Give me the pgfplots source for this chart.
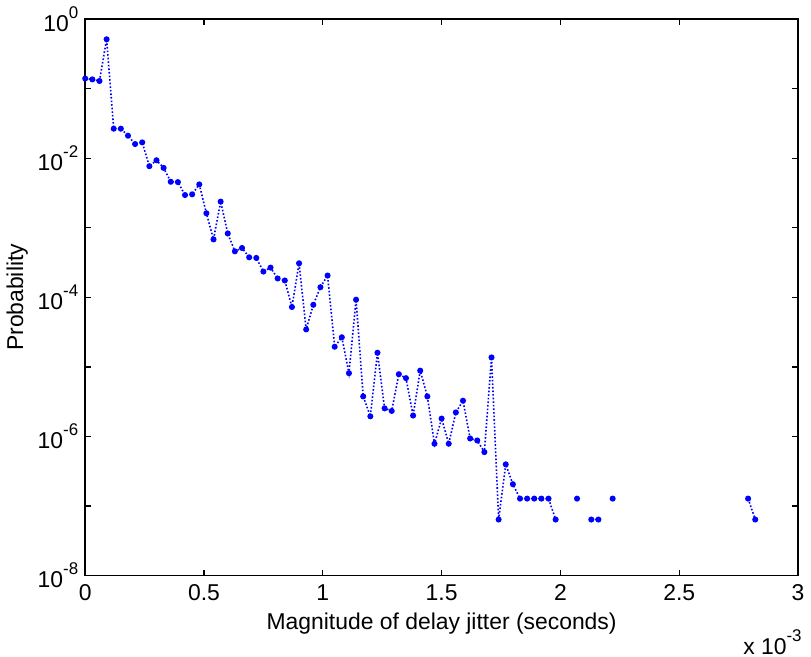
\documentclass[border=0pt]{standalone}
\usepackage{pgfplots}
\pgfplotsset{compat=1.18}
\usepackage{fontspec}
\setmainfont{Liberation Sans}
\newcommand{\sy}[1]{\raisebox{6.5pt}{\fontsize{8.5}{9}\selectfont #1}}
\pgfplotstableread{
x y
0.00 1.40e-1
0.03 1.36e-1
0.06 1.29e-1
0.09 5.13e-1
0.12 2.66e-2
0.15 2.66e-2
0.18 2.11e-2
0.21 1.60e-2
0.24 1.69e-2
0.27 7.69e-3
0.30 9.36e-3
0.33 7.27e-3
0.36 4.59e-3
0.39 4.54e-3
0.42 2.96e-3
0.45 3.03e-3
0.48 4.21e-3
0.51 1.62e-3
0.54 6.81e-4
0.57 2.38e-3
0.60 8.29e-4
0.63 4.59e-4
0.66 5.13e-4
0.69 3.77e-4
0.72 3.69e-4
0.75 2.35e-4
0.78 2.68e-4
0.81 1.87e-4
0.84 1.75e-4
0.87 7.27e-5
0.90 3.09e-4
0.93 3.46e-5
0.96 7.82e-5
0.99 1.40e-4
1.02 2.06e-4
1.05 1.95e-5
1.08 2.67e-5
1.11 8.13e-6
1.14 9.27e-5
1.17 3.77e-6
1.20 1.95e-6
1.23 1.60e-5
1.26 2.54e-6
1.29 2.33e-6
1.32 7.87e-6
1.35 6.90e-6
1.38 2.00e-6
1.41 8.85e-6
1.44 3.77e-6
1.47 7.87e-7
1.50 1.81e-6
1.53 7.87e-7
1.56 2.22e-6
1.59 3.27e-6
1.62 9.36e-7
1.65 8.77e-7
1.68 5.97e-7
1.71 1.37e-5
1.74 6.4e-8
1.77 3.98e-7
1.80 2.06e-7
1.83 1.28e-7
1.86 1.28e-7
1.89 1.28e-7
1.92 1.28e-7
1.95 1.28e-7
1.98 6.4e-8
2.01 nan
2.04 nan
2.07 1.28e-7
2.10 nan
2.13 6.4e-8
2.16 6.4e-8
2.19 nan
2.22 1.28e-7
2.25 nan
2.76 nan
2.79 1.28e-7
2.82 6.4e-8
}\datatable
\begin{document}
\begin{tikzpicture}
\begin{axis}[
  scale only axis=true,
  width=358pt, height=279.5pt,
  xmin=0, xmax=3,
  ymode=log, ymin=1e-8, ymax=1,
  font=\fontsize{11.5}{13}\selectfont,
  axis line style={line width=0.8pt},
  every tick/.style={black, line width=0.6pt},
  minor tick style={draw=none},
  tick align=inside,
  major tick length=3pt,
  xtick pos=both, ytick pos=both,
  xticklabel pos=bottom, yticklabel pos=left,
  xtick={0,0.5,1,1.5,2,2.5,3},
  xticklabels={0,0.5,1,1.5,2,2.5,3},
  ytick={1e-8,1e-7,1e-6,1e-5,1e-4,1e-3,1e-2,1e-1,1},
  yticklabels={10\sy{-8},,10\sy{-6},,10\sy{-4},,10\sy{-2},,10\sy{0}},
  xticklabel style={yshift=-1pt},
  xlabel={Magnitude of delay jitter (seconds)},
  ylabel={Probability},
  xlabel style={yshift=1pt},
  ylabel style={yshift=-2pt},
  unbounded coords=jump,
  clip=false,
]
\addplot[blue, densely dotted, line width=0.8pt,
  mark=*, mark size=1.1pt, mark options={solid, fill=blue, draw=blue}]
  table[x=x, y=y] {\datatable};
\node[anchor=north east, inner sep=1pt, font=\fontsize{11.5}{13}\selectfont] at (rel axis cs:1,0) [xshift=3pt, yshift=-26pt] {x 10\sy{-3}};
\end{axis}
\end{tikzpicture}
\end{document}
